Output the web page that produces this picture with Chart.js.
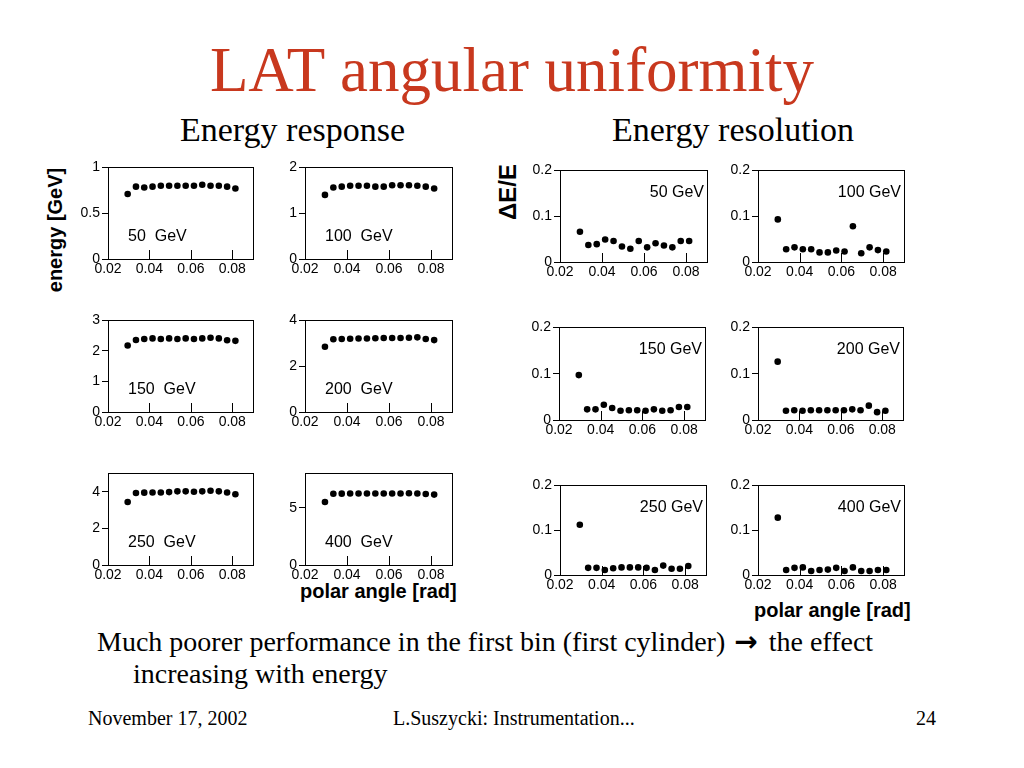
<!DOCTYPE html>
<html>
<head>
<meta charset="utf-8">
<script src="https://cdn.jsdelivr.net/npm/chart.js@4.4.0/dist/chart.umd.min.js"></script>
<style>
  body { margin: 0; background: #fff; }
  #slide { position: relative; width: 1024px; height: 768px; overflow: hidden; background: #fff; }
  .serif { position: absolute; font-family: 'Liberation Serif', 'Times New Roman', serif; color: #000; line-height: 1; white-space: nowrap; }
  .root { position: absolute; font-family: 'Liberation Sans', Arial, sans-serif; color: #000; line-height: 1; white-space: pre; }
  .panel { position: absolute; }
  .arrow { font-family: 'DejaVu Sans', sans-serif; font-weight: bold; font-size: 28px; margin: 0 4px 0 2px; }
</style>
</head>
<body>
<div id="slide">
  <div class="serif" style="left:0; width:1024px; text-align:center; top:39px; font-size:63px; color:#C8381E;">LAT angular uniformity</div>
  <div class="serif" style="left:180px; top:113px; font-size:34px;">Energy response</div>
  <div class="serif" style="left:612px; top:113px; font-size:34px;">Energy resolution</div>

  <div class="root" style="left:55px; top:230px; font-size:20px; font-weight:bold; transform:translate(-50%,-50%) rotate(-90deg);">energy [GeV]</div>
  <div class="root" style="left:508px; top:192px; font-size:24px; font-weight:bold; transform:translate(-50%,-50%) rotate(-90deg);">ΔE/E</div>
  <div class="root" style="left:300px; top:581px; font-size:20px; font-weight:bold;">polar angle [rad]</div>
  <div class="root" style="left:754px; top:600px; font-size:20px; font-weight:bold;">polar angle [rad]</div>

  <div class="serif" style="left:97px; top:628px; font-size:28px;">Much poorer performance in the first bin (first cylinder) <span class="arrow">→</span> the effect</div>
  <div class="serif" style="left:133px; top:660px; font-size:28px;">increasing with energy</div>

  <div class="serif" style="left:88px; top:708px; font-size:20px;">November 17, 2002</div>
  <div class="serif" style="left:393px; top:708px; font-size:20px;">L.Suszycki: Instrumentation...</div>
  <div class="serif" style="left:916px; top:708px; font-size:20px;">24</div>
</div>

<script>
// polar angle bin centres [rad]
const angles = [0.0295, 0.0335, 0.0375, 0.0415, 0.0455, 0.0495, 0.0535, 0.0575, 0.0615, 0.0655, 0.0695, 0.0735, 0.0775, 0.0815];
const xTicks = [0.02, 0.04, 0.06, 0.08];

// energy response [GeV]
const resp50  = [0.71, 0.79, 0.78, 0.79, 0.80, 0.80, 0.80, 0.80, 0.80, 0.81, 0.80, 0.80, 0.79, 0.77];
const resp100 = [1.40, 1.56, 1.58, 1.60, 1.60, 1.60, 1.58, 1.58, 1.61, 1.61, 1.61, 1.60, 1.58, 1.54];
const resp150 = [2.18, 2.36, 2.39, 2.41, 2.39, 2.41, 2.39, 2.41, 2.39, 2.41, 2.43, 2.41, 2.35, 2.33];
const resp200 = [2.85, 3.18, 3.19, 3.20, 3.21, 3.21, 3.22, 3.23, 3.23, 3.23, 3.24, 3.26, 3.19, 3.14];
const resp250 = [3.44, 3.93, 3.95, 3.96, 3.96, 3.98, 4.02, 4.02, 4.00, 4.02, 4.05, 4.02, 3.96, 3.86];
const resp400 = [5.50, 6.22, 6.23, 6.24, 6.25, 6.25, 6.25, 6.25, 6.25, 6.25, 6.26, 6.24, 6.20, 6.15];

// energy resolution dE/E
const res50  = [0.066, 0.037, 0.039, 0.049, 0.046, 0.034, 0.029, 0.046, 0.032, 0.041, 0.036, 0.032, 0.046, 0.046];
const res100 = [0.093, 0.028, 0.032, 0.028, 0.028, 0.021, 0.021, 0.025, 0.023, 0.078, 0.019, 0.032, 0.026, 0.023];
const res150 = [0.097, 0.023, 0.023, 0.033, 0.026, 0.020, 0.021, 0.021, 0.020, 0.023, 0.020, 0.021, 0.028, 0.028];
const res200 = [0.126, 0.020, 0.021, 0.020, 0.021, 0.021, 0.021, 0.021, 0.021, 0.023, 0.021, 0.031, 0.017, 0.020];
const res250 = [0.112, 0.016, 0.016, 0.011, 0.015, 0.017, 0.017, 0.017, 0.016, 0.011, 0.021, 0.014, 0.014, 0.020];
const res400 = [0.128, 0.011, 0.016, 0.017, 0.009, 0.011, 0.012, 0.016, 0.009, 0.017, 0.009, 0.009, 0.011, 0.011];

const panels = [
    { values: resp50,  label: '50  GeV',  yMax: 1, yTicks: [0, 0.5, 1], box: [108, 165, 145, 94], side: 'left' },
    { values: resp100, label: '100  GeV', yMax: 2, yTicks: [0, 1, 2], box: [305, 165, 147, 94], side: 'left' },
    { values: resp150, label: '150  GeV', yMax: 3, yTicks: [0, 1, 2, 3], box: [108, 318, 145, 94], side: 'left' },
    { values: resp200, label: '200  GeV', yMax: 4, yTicks: [0, 2, 4], box: [305, 318, 147, 94], side: 'left' },
    { values: resp250, label: '250  GeV', yMax: 5, yTicks: [0, 2, 4], box: [108, 471, 145, 94], side: 'left' },
    { values: resp400, label: '400  GeV', yMax: 8, yTicks: [0, 5], box: [305, 471, 147, 94], side: 'left' },
    { values: res50,  label: '50 GeV',  yMax: 0.2, yTicks: [0, 0.1, 0.2], box: [560, 168, 147, 94], side: 'right' },
    { values: res100, label: '100 GeV', yMax: 0.2, yTicks: [0, 0.1, 0.2], box: [758, 168, 146, 94], side: 'right' },
    { values: res150, label: '150 GeV', yMax: 0.2, yTicks: [0, 0.1, 0.2], box: [559, 325, 146, 95], side: 'right' },
    { values: res200, label: '200 GeV', yMax: 0.2, yTicks: [0, 0.1, 0.2], box: [758, 325, 145, 95], side: 'right' },
    { values: res250, label: '250 GeV', yMax: 0.2, yTicks: [0, 0.1, 0.2], box: [560, 483, 146, 92], side: 'right' },
    { values: res400, label: '400 GeV', yMax: 0.2, yTicks: [0, 0.1, 0.2], box: [758, 483, 146, 92], side: 'right' }
];

// frame around plot area + x ticks pointing inward (ROOT style)
const framePlugin = {
    id: 'frame',
    afterDraw(chart) {
        const { ctx, chartArea: a, scales: { x } } = chart;
        ctx.save();
        ctx.strokeStyle = '#000';
        ctx.lineWidth = 1;
        ctx.strokeRect(Math.round(a.left) + 0.5, Math.round(a.top) + 0.5, Math.round(a.width), Math.round(a.height));
        ctx.beginPath();
        xTicks.forEach(v => {
            const px = Math.round(x.getPixelForValue(v)) + 0.5;
            ctx.moveTo(px, a.bottom);
            ctx.lineTo(px, a.bottom - 9);
        });
        ctx.stroke();
        ctx.restore();
    }
};

const Y_W = 45, X_H = 24, PAD_T = 8, PAD_R = 10;
const slide = document.getElementById('slide');

panels.forEach(p => {
    const [bx, by, bw, bh] = p.box;
    const wrap = document.createElement('div');
    wrap.className = 'panel';
    wrap.style.left = (bx - Y_W) + 'px';
    wrap.style.top = (by - PAD_T) + 'px';
    wrap.style.width = (bw + Y_W + PAD_R) + 'px';
    wrap.style.height = (bh + PAD_T + X_H) + 'px';
    const canvas = document.createElement('canvas');
    wrap.appendChild(canvas);
    slide.appendChild(wrap);

    // energy label inside the frame
    const lab = document.createElement('div');
    lab.className = 'root';
    lab.textContent = p.label;
    lab.style.fontSize = '16px';
    if (p.side === 'left') {
        lab.style.left = (bx + 20) + 'px';
        lab.style.top = (by + 63) + 'px';
    } else {
        lab.style.left = (bx + bw - 3) + 'px';
        lab.style.top = (by + 16) + 'px';
        lab.style.transform = 'translateX(-100%)';
    }
    slide.appendChild(lab);

    new Chart(canvas, {
        type: 'scatter',
        data: {
            datasets: [{
                data: angles.map((a, i) => ({ x: a, y: p.values[i] })),
                backgroundColor: '#000',
                borderWidth: 0,
                pointRadius: 3.3,
                pointHoverRadius: 3.3
            }]
        },
        options: {
            responsive: true,
            maintainAspectRatio: false,
            animation: false,
            layout: { padding: { top: PAD_T, right: PAD_R, left: 0, bottom: 0 } },
            plugins: { legend: { display: false }, tooltip: { enabled: false } },
            scales: {
                x: {
                    type: 'linear',
                    min: 0.02,
                    max: 0.09,
                    afterBuildTicks: s => { s.ticks = xTicks.map(v => ({ value: v })); },
                    afterFit: s => { s.height = X_H; },
                    grid: { display: false, drawTicks: false },
                    border: { display: false },
                    ticks: {
                        padding: 2,
                        maxRotation: 0,
                        autoSkip: false,
                        color: '#000',
                        font: { family: 'Liberation Sans', size: 14 },
                        callback: v => v.toFixed(2)
                    }
                },
                y: {
                    min: 0,
                    max: p.yMax,
                    afterBuildTicks: s => { s.ticks = p.yTicks.map(v => ({ value: v })); },
                    afterFit: s => { s.width = Y_W; },
                    grid: { drawOnChartArea: false, drawTicks: true, tickLength: 6, color: '#000' },
                    border: { display: false },
                    ticks: {
                        padding: 2,
                        autoSkip: false,
                        color: '#000',
                        font: { family: 'Liberation Sans', size: 14 },
                        callback: v => String(v)
                    }
                }
            }
        },
        plugins: [framePlugin]
    });
});
</script>
</body>
</html>
